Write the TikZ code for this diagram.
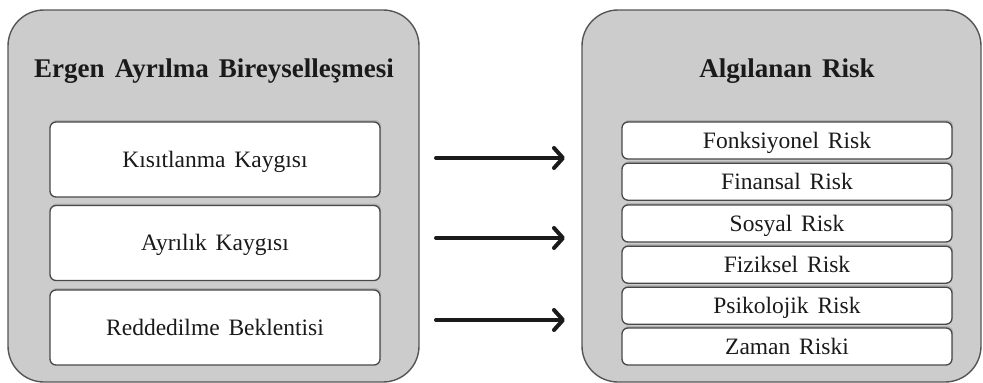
\documentclass[tikz,border=0pt]{standalone}
\usepackage{fontspec}
\setmainfont{Liberation Serif}[WordSpace=1.5]
\usetikzlibrary{arrows.meta,shadows}
\definecolor{panelgray}{HTML}{CCCCCC}
\definecolor{edgegray}{HTML}{555555}
\definecolor{inkdark}{HTML}{1A1A1A}
\tikzset{
  panel/.style={draw=edgegray, line width=1.4pt, fill=panelgray, rounded corners=36pt, inner sep=0pt},
  itembox/.style={draw=inkdark!80, line width=1.3pt, fill=white, rounded corners=6pt, inner sep=0pt,
    minimum width=330pt, text=inkdark, font=\fontsize{23.5}{26}\selectfont,
    text height=15.5pt, text depth=0pt,
    drop shadow={opacity=0.35, shadow xshift=1pt, shadow yshift=2pt}},
  bigitem/.style={itembox, minimum height=75pt},
  riskitem/.style={itembox, minimum height=37pt},
  paneltitle/.style={font=\bfseries\fontsize{27}{30}\selectfont, text=inkdark, inner sep=0pt,
    text height=18pt, text depth=0pt},
  flow/.style={draw=inkdark, line width=4pt, line cap=round, -{Straight Barb[length=9pt,width=20pt,round]}}
}
\begin{document}
\begin{tikzpicture}[x=1pt,y=-1pt]
\useasboundingbox (0,0) rectangle (983,383);
\node[panel, minimum width=411pt, minimum height=372pt] (left) at (213.5,196) {};
\node[panel, minimum width=399pt, minimum height=372pt] (right) at (781.5,196) {};
\node[paneltitle] (lt) at (214,68) {Ergen Ayrılma Bireyselleşmesi};
\node[paneltitle] (rt) at (787,68) {Algılanan Risk};
\node[bigitem] (k1) at (215,159.5) {Kısıtlanma Kaygısı};
\node[bigitem] (k2) at (215,243) {Ayrılık Kaygısı};
\node[bigitem] (k3) at (215,327.5) {Reddedilme Beklentisi};
\node[riskitem] (r1) at (787,140.5) {Fonksiyonel Risk};
\node[riskitem] (r2) at (787,181.7) {Finansal Risk};
\node[riskitem] (r3) at (787,223.5) {Sosyal Risk};
\node[riskitem] (r4) at (787,264.7) {Fiziksel Risk};
\node[riskitem] (r5) at (787,305.7) {Psikolojik Risk};
\node[riskitem] (r6) at (787,346.5) {Zaman Riski};
\coordinate (a1s) at (436,158);
\coordinate (a1e) at (565,158);
\coordinate (a2s) at (436,238);
\coordinate (a2e) at (565,238);
\coordinate (a3s) at (436,320);
\coordinate (a3e) at (565,320);
\draw[flow] (a1s) -- (a1e);
\draw[flow] (a2s) -- (a2e);
\draw[flow] (a3s) -- (a3e);
\end{tikzpicture}
\end{document}
